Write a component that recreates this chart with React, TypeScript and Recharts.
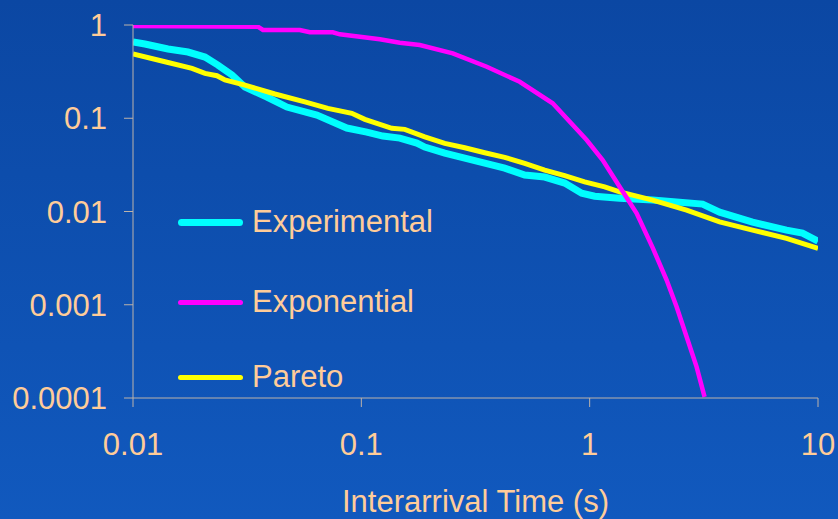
import { LineChart, Line, XAxis, YAxis, Legend } from "recharts"

// Experimental CDF
const experimentalX = [0.01, 0.01128, 0.01423, 0.01741, 0.02066, 0.02355, 0.02713, 0.03092, 0.03859, 0.0472, 0.06388, 0.07505, 0.08641, 0.1057, 0.1242, 0.1474, 0.175, 0.1896, 0.232, 0.2838, 0.3471, 0.4246, 0.5195, 0.6356, 0.7773, 0.9226, 1.052, 1.353, 1.887, 3.123, 3.707, 5.169, 7.278, 8.551, 10]
const experimentalY = [0.657, 0.625, 0.553, 0.513, 0.453, 0.372, 0.291, 0.216, 0.169, 0.132, 0.108, 0.091, 0.0785, 0.0711, 0.0644, 0.0613, 0.0542, 0.0491, 0.0423, 0.0374, 0.0331, 0.0292, 0.0246, 0.0234, 0.0202, 0.0157, 0.0146, 0.0139, 0.0133, 0.012, 0.00985, 0.00769, 0.00631, 0.00586, 0.00481]

const exponentialX = [0.01, 0.0352, 0.0371, 0.0538, 0.0595, 0.075, 0.0805, 0.0985, 0.1205, 0.1474, 0.1803, 0.2514, 0.3542, 0.4939, 0.6887, 0.9703, 1.14, 1.353, 1.606, 1.887, 2.173, 2.403, 2.658, 2.94, 3.186]
const exponentialY = [0.975, 0.96, 0.884, 0.884, 0.835, 0.835, 0.795, 0.749, 0.702, 0.646, 0.61, 0.497, 0.357, 0.246, 0.1445, 0.0584, 0.0356, 0.0184, 0.00954, 0.0041, 0.00184, 0.00095, 0.000453, 0.000216, 0.000103]

const paretoX = [0.01, 0.0138, 0.01813, 0.02066, 0.02331, 0.02527, 0.03092, 0.04183, 0.05658, 0.07136, 0.09087, 0.1036, 0.136, 0.155, 0.1896, 0.232, 0.2838, 0.3471, 0.4246, 0.5195, 0.6356, 0.7773, 0.9507, 1.163, 1.353, 1.887, 2.658, 3.707, 5.169, 7.278, 10]
const paretoY = [0.489, 0.404, 0.343, 0.303, 0.286, 0.257, 0.227, 0.182, 0.15, 0.1277, 0.1129, 0.0973, 0.0779, 0.076, 0.0633, 0.0538, 0.0483, 0.0427, 0.0381, 0.0328, 0.0278, 0.0242, 0.0208, 0.0184, 0.01626, 0.01324, 0.01035, 0.00775, 0.00632, 0.00515, 0.00402]

const xTicks = [0.01, 0.1, 1, 10]
const xTickLabels = ["0.01", "0.1", "1", "10"]
const yTicks = [0.0001, 0.001, 0.01, 0.1, 1]
const yTickLabels = ["0.0001", "0.001", "0.01", "0.1", "1"]

const toPoints = (xs: number[], ys: number[]) => xs.map((x, i) => ({ x, y: ys[i] }))

const experimental = toPoints(experimentalX, experimentalY)
const exponential = toPoints(exponentialX, exponentialY)
const pareto = toPoints(paretoX, paretoY)

const TEXT = "#FFCC99"
const AXIS = "#bdb3aa"
const FONT = "'Liberation Sans', Arial, sans-serif"

const legendItems = [
  { name: "Experimental", color: "#00FFFF", width: 7, top: 0 },
  { name: "Exponential", color: "#FF00FF", width: 5, top: 80 },
  { name: "Pareto", color: "#FFFF00", width: 5, top: 155 },
]

function ChartLegend() {
  return (
    <div style={{ position: "relative", width: 300, height: 190 }}>
      {legendItems.map((it) => (
        <div key={it.name} style={{ position: "absolute", left: 0, top: it.top, height: 40, display: "flex", alignItems: "center" }}>
          <div style={{ width: 65, height: it.width, background: it.color, borderRadius: it.width / 2 }} />
          <span style={{ marginLeft: 9, color: TEXT, fontFamily: FONT, fontSize: 31, lineHeight: "40px" }}>{it.name}</span>
        </div>
      ))}
    </div>
  )
}

export default function App() {
  return (
    <div
      style={{
        position: "absolute",
        left: 0,
        top: 0,
        width: 838,
        height: 519,
        background: "linear-gradient(180deg, #0b47a3 0%, #1159be 100%)",
      }}
    >
      <LineChart width={838} height={519} margin={{ top: 25, right: 20, bottom: 0, left: 0 }}>
        <XAxis
          dataKey="x"
          type="number"
          scale="log"
          domain={[0.01, 10]}
          ticks={xTicks}
          interval={0}
          allowDataOverflow
          height={121}
          stroke={AXIS}
          tickSize={9}
          tickMargin={26}
          tick={{ fill: TEXT, fontSize: 31, fontFamily: FONT }}
          tickFormatter={(v: number) => xTickLabels[xTicks.indexOf(v)] ?? String(v)}
          label={{ value: "Interarrival Time (s)", position: "insideBottom", offset: 7, fill: TEXT, fontSize: 31, fontFamily: FONT }}
        />
        <YAxis
          type="number"
          scale="log"
          domain={[0.0001, 1]}
          ticks={yTicks}
          interval={0}
          allowDataOverflow
          width={133}
          stroke={AXIS}
          tickSize={9}
          tickMargin={17}
          tick={{ fill: TEXT, fontSize: 31, fontFamily: FONT }}
          tickFormatter={(v: number) => yTickLabels[yTicks.indexOf(v)] ?? String(v)}
        />
        <Legend
          layout="horizontal"
          verticalAlign="middle"
          align="center"
          content={() => <ChartLegend />}
          wrapperStyle={{ left: 178, top: 202, width: 300 }}
        />
        <Line data={experimental} dataKey="y" name="Experimental" stroke="#00FFFF" strokeWidth={7} dot={false} isAnimationActive={false} />
        <Line data={pareto} dataKey="y" name="Pareto" stroke="#FFFF00" strokeWidth={5} dot={false} isAnimationActive={false} />
        <Line data={exponential} dataKey="y" name="Exponential" stroke="#FF00FF" strokeWidth={4.5} dot={false} isAnimationActive={false} />
      </LineChart>
    </div>
  )
}
